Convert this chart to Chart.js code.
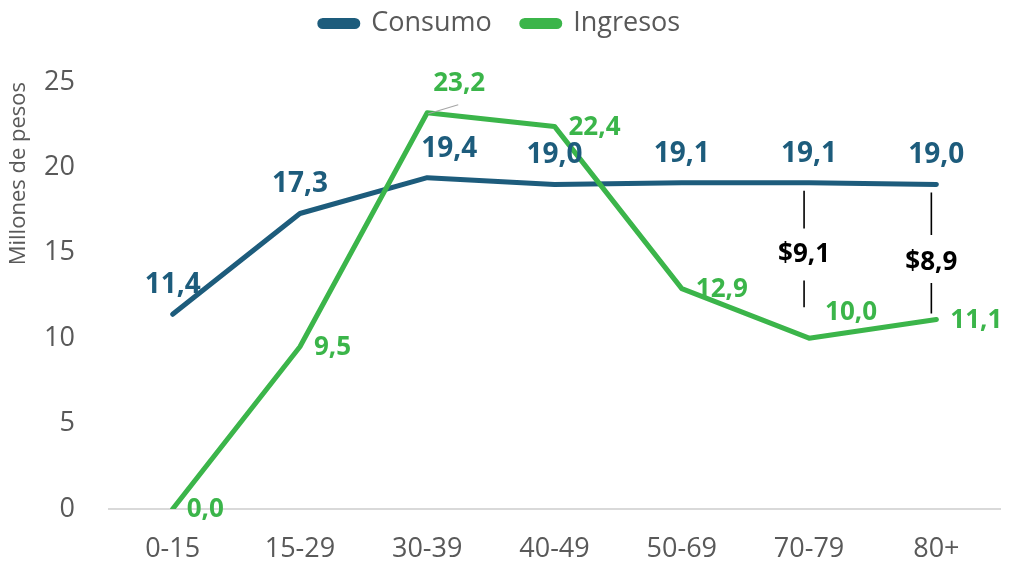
<!DOCTYPE html>
<html>
<head>
<meta charset="utf-8">
<script src="https://cdn.jsdelivr.net/npm/chart.js@4/dist/chart.umd.min.js"></script>
<style>
  html, body { margin: 0; padding: 0; background: #ffffff; }
  #wrap { width: 1010px; height: 566px; position: relative; }
</style>
</head>
<body>
<div id="wrap"><canvas id="c"></canvas></div>
<script>
const categories = ['0-15', '15-29', '30-39', '40-49', '50-69', '70-79', '80+'];
const consumo = [11.4, 17.3, 19.4, 19.0, 19.1, 19.1, 19.0];
const ingresos = [0.0, 9.5, 23.2, 22.4, 12.9, 10.0, 11.1];
const yTicks = [0, 5, 10, 15, 20, 25];
const gapCategories = ['70-79', '80+'];
const gapLabels = ['$9,1', '$8,9'];

const BLUE = '#1d5c7c';
const GREEN = '#3bb54a';
const GREY = '#595959';
const FONT = "'Open Sans', 'Liberation Sans', sans-serif";

function fmt(v) { return v.toFixed(1).replace('.', ','); }

const labelPlugin = {
  id: 'valueLabels',
  afterDatasetsDraw(chart) {
    const ctx = chart.ctx;
    const metaC = chart.getDatasetMeta(0);
    const metaI = chart.getDatasetMeta(1);
    ctx.save();
    // Consumo labels: above the points
    ctx.font = "bold 28px " + FONT;
    ctx.fillStyle = BLUE;
    ctx.textAlign = 'center';
    ctx.textBaseline = 'middle';
    metaC.data.forEach((pt, i) => {
      const dx = (i === 2) ? 22 : 0;
      ctx.fillText(fmt(consumo[i]), pt.x + dx, pt.y - 29);
    });
    // Ingresos labels: right of the points
    ctx.font = "bold 26px " + FONT;
    ctx.fillStyle = GREEN;
    metaI.data.forEach((pt, i) => {
      const t = fmt(ingresos[i]);
      if (i === 2) {
        ctx.textAlign = 'center';
        ctx.fillText(t, pt.x + 32, pt.y - 29);
        ctx.strokeStyle = '#a6a6a6';
        ctx.lineWidth = 1.2;
        ctx.beginPath();
        ctx.moveTo(pt.x + 1, pt.y + 1);
        ctx.lineTo(pt.x + 31, pt.y - 8);
        ctx.stroke();
      } else if (i === 5) {
        ctx.textAlign = 'center';
        ctx.fillText(t, pt.x + 42, pt.y - 26);
      } else {
        ctx.textAlign = 'left';
        ctx.fillText(t, pt.x + 14, pt.y + 1);
      }
    });
    // Gap annotations
    const xs = chart.scales.x;
    const ys = chart.scales.y;
    const textOff = [-6, 11];
    const lowEnd = [31, 6];
    const upEnd = [26, 28];
    const lowStart = [26, 20];
    ctx.font = "bold 26px " + FONT;
    ctx.fillStyle = '#000000';
    ctx.strokeStyle = '#000000';
    ctx.lineWidth = 1.6;
    ctx.textAlign = 'center';
    gapCategories.forEach((cat, k) => {
      const idx = categories.indexOf(cat);
      const x = xs.getPixelForValue(idx) - 5;
      const yc = ys.getPixelForValue(consumo[idx]);
      const yi = ys.getPixelForValue(ingresos[idx]);
      const ty = (yc + yi) / 2 + textOff[k];
      ctx.beginPath();
      ctx.moveTo(x, yc + 8);
      ctx.lineTo(x, ty - upEnd[k]);
      ctx.moveTo(x, ty + lowStart[k]);
      ctx.lineTo(x, yi - lowEnd[k]);
      ctx.stroke();
      ctx.fillText(gapLabels[k], x, ty);
    });
    ctx.restore();
  }
};

new Chart(document.getElementById('c'), {
  type: 'line',
  data: {
    labels: categories,
    datasets: [
      {
        label: 'Consumo',
        data: consumo,
        borderColor: BLUE,
        backgroundColor: BLUE,
        borderWidth: 5,
        pointRadius: 0,
        tension: 0,
        borderCapStyle: 'round',
        borderJoinStyle: 'round',
        order: 1
      },
      {
        label: 'Ingresos',
        data: ingresos,
        borderColor: GREEN,
        backgroundColor: GREEN,
        borderWidth: 5,
        pointRadius: 0,
        tension: 0,
        borderCapStyle: 'round',
        borderJoinStyle: 'round',
        order: 0
      }
    ]
  },
  options: {
    responsive: true,
    maintainAspectRatio: false,
    animation: false,
    layout: { padding: { left: 0, right: 10, top: -20, bottom: 0 } },
    plugins: {
      tooltip: { enabled: false },
      legend: {
        position: 'top',
        labels: {
          sort: (a, b) => a.datasetIndex - b.datasetIndex,
          font: { family: FONT, size: 27 },
          color: GREY,
          boxWidth: 38,
          boxHeight: 6,
          useBorderRadius: true,
          borderRadius: 3,
          padding: 30
        }
      },
      title: {
        display: true,
        text: '',
        weight: 500,
        font: { size: 10 },
        padding: { top: 2, bottom: 21 }
      }
    },
    scales: {
      x: {
        offset: true,
        grid: { display: false, drawTicks: false, offset: true },
        border: { display: true, color: '#d9d9d9', width: 2 },
        ticks: { font: { family: FONT, size: 27 }, color: GREY, padding: 24 },
        afterFit(s) { s.height = 57; }
      },
      y: {
        min: 0,
        max: 25,
        grid: { display: false, drawTicks: false },
        border: { display: false },
        afterBuildTicks(s) { s.ticks = yTicks.map(v => ({ value: v })); },
        ticks: { font: { family: FONT, size: 27 }, color: GREY, padding: 34 },
        title: {
          display: true,
          text: 'Millones de pesos',
          align: 'end',
          font: { family: FONT, size: 22 },
          color: GREY,
          padding: { top: 6, bottom: 0 }
        },
        afterFit(s) { s.width = 109; }
      }
    }
  },
  plugins: [labelPlugin]
});
</script>
</body>
</html>
